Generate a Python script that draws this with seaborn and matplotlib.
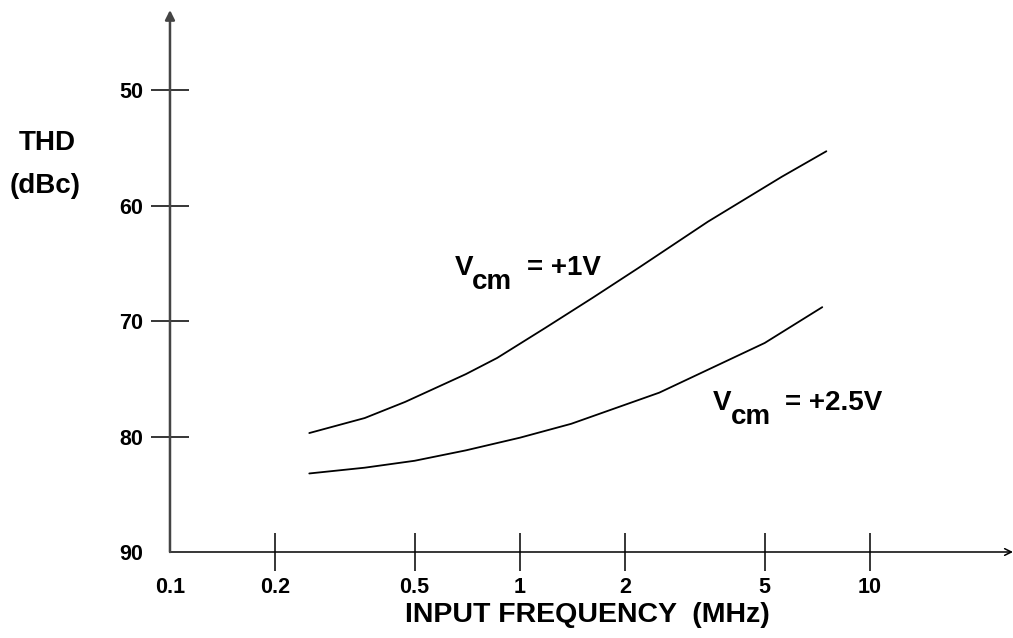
import numpy as np
import pandas as pd
import matplotlib
matplotlib.use("Agg")
import matplotlib.pyplot as plt
import seaborn as sns

# curvas (THD em dBc x frequência em MHz)
freq_1v = [0.25, 0.36, 0.47, 0.70, 0.86, 1.18, 1.61, 2.18, 3.44, 5.6, 7.5]
thd_1v = [79.7, 78.4, 77.0, 74.6, 73.2, 70.6, 68.0, 65.4, 61.4, 57.5, 55.3]

freq_2v5 = [0.25, 0.36, 0.5, 0.7, 1.0, 1.4, 2.5, 5.0, 7.3]
thd_2v5 = [83.2, 82.7, 82.1, 81.2, 80.1, 78.9, 76.2, 71.9, 68.8]

x_ticks = [0.1, 0.2, 0.5, 1, 2, 5, 10]
x_labels = ["0.1", "0.2", "0.5", "1", "2", "5", "10"]
y_ticks = [50, 60, 70, 80, 90]
y_labels = ["50", "60", "70", "80", "90"]

df = pd.concat([
    pd.DataFrame({"freq": freq_1v, "thd": thd_1v, "vcm": "+1V"}),
    pd.DataFrame({"freq": freq_2v5, "thd": thd_2v5, "vcm": "+2.5V"}),
])

sns.set_theme(style="white")
plt.rcParams["font.family"] = ["Liberation Sans", "DejaVu Sans"]
plt.rcParams["font.weight"] = "bold"
plt.rcParams["text.color"] = "black"

fig = plt.figure(figsize=(10.13, 6.38), dpi=100)
ax = fig.add_axes([0.1678, 0.1348, 0.8322, 0.8495])

sns.lineplot(data=df, x="freq", y="thd", hue="vcm", palette=["black", "black"],
             estimator=None, sort=True, linewidth=1.3, legend=False, ax=ax)

ax.set_xscale("log")
ax.set_xlim(0.1, 25.6)
ax.set_ylim(90, 43.07)

for s in ax.spines.values():
    s.set_visible(False)

# eixos com seta
ax.annotate("", xy=(1, 0), xytext=(0, 0), xycoords="axes fraction",
            arrowprops=dict(arrowstyle="->", color="black", lw=1.1,
                            shrinkA=0, shrinkB=0, mutation_scale=12))
ax.annotate("", xy=(0, 1), xytext=(0, 0), xycoords="axes fraction",
            arrowprops=dict(arrowstyle="-|>", color="#444444", lw=1.8,
                            shrinkA=0, shrinkB=0, mutation_scale=14))

ax.set_xticks(x_ticks)
ax.set_xticklabels(x_labels)
ax.xaxis.set_minor_locator(matplotlib.ticker.NullLocator())
ax.set_yticks(y_ticks)
ax.set_yticklabels(y_labels)
ax.tick_params(axis="both", direction="inout", length=28, width=1.1,
               color="black", labelsize=15.5, labelcolor="black")
ax.tick_params(axis="x", pad=4)
ax.tick_params(axis="y", pad=5)
ax.tick_params(bottom=True, left=True)
for lab in ax.get_xticklabels() + ax.get_yticklabels():
    lab.set_fontweight("bold")

# sem traço no canto (0.1 e 90)
ax.xaxis.get_major_ticks()[0].tick1line.set_visible(False)
ax.yaxis.get_major_ticks()[-1].tick1line.set_visible(False)

ax.set_xlabel("")
ax.set_ylabel("")
fig.text(0.5794, 0.036, "INPUT FREQUENCY  (MHz)", ha="center", va="center",
         fontsize=20.5, fontweight="bold")
fig.text(0.0464, 0.776, "THD", ha="center", va="center", fontsize=20, fontweight="bold")
fig.text(0.0444, 0.708, "(dBc)", ha="center", va="center", fontsize=20, fontweight="bold")

# rótulos das curvas: V + subscrito cm + resto
def vcm_label(x, y, rest):
    kw = dict(fontsize=20, fontweight="bold", ha="left", va="baseline",
              textcoords="offset points", xycoords="data")
    ax.annotate("V", xy=(x, y), xytext=(0, 0), **kw)
    ax.annotate("cm", xy=(x, y), xytext=(12.5, -10), **kw)
    ax.annotate("= " + rest, xy=(x, y), xytext=(52, 0), **kw)

vcm_label(0.652, 66.0, "+1V")
vcm_label(3.56, 77.7, "+2.5V")

plt.savefig("out.png", dpi=100)
